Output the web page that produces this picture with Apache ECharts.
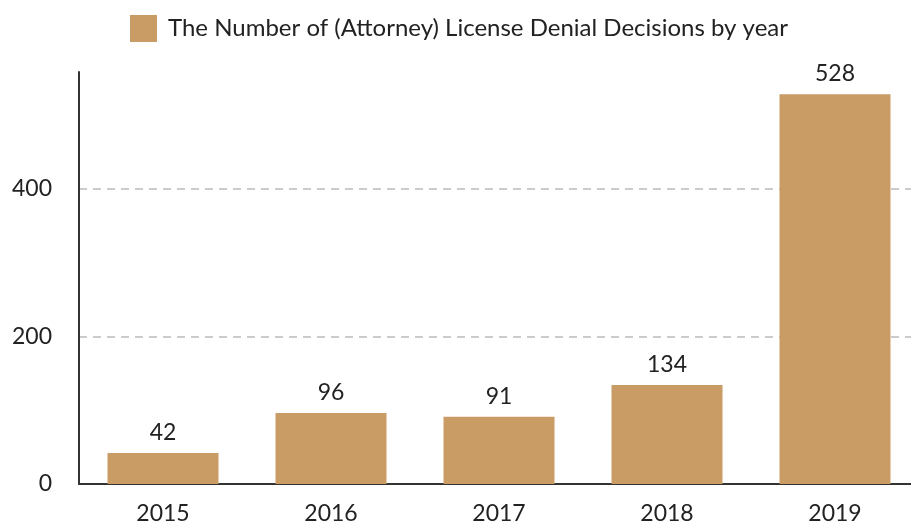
<!DOCTYPE html>
<html>
<head>
<meta charset="utf-8">
<script src="https://cdn.jsdelivr.net/npm/echarts@6/dist/echarts.min.js"></script>
<style>
  html, body { margin: 0; padding: 0; background: #fff; overflow: hidden; }
  #chart { width: 930px; height: 527px; }
</style>
</head>
<body>
<div id="chart"></div>
<script>
// data
const years = ['2015', '2016', '2017', '2018', '2019'];
const denials = [42, 96, 91, 134, 528];
const seriesName = 'The Number of (Attorney) License Denial Decisions by year';

const barColor = '#C99B65';
const fontFamily = 'Lato, "Open Sans", sans-serif';

// the original plot runs a little past the right edge, so the canvas is wider than the window
const myChart = echarts.init(document.getElementById('chart'));
const option = {
  animation: false,
  textStyle: { fontFamily },
  legend: {
    top: 10,
    left: 125,
    itemWidth: 27,
    itemHeight: 27,
    icon: 'rect',
    selectedMode: false,
    textStyle: { fontSize: 24, color: '#222', fontFamily, padding: [0, 0, 0, 6] },
    data: [seriesName]
  },
  grid: {
    left: 79,
    top: 72,
    right: 11,
    bottom: 43
  },
  xAxis: {
    type: 'category',
    data: years,
    axisLine: { lineStyle: { color: '#333', width: 2 } },
    axisTick: { show: false },
    axisLabel: { fontSize: 23, color: '#222', margin: 18, fontFamily }
  },
  yAxis: {
    type: 'value',
    min: 0,
    max: 558,
    interval: 200,
    axisLine: { show: true, lineStyle: { color: '#333', width: 2 } },
    axisTick: { show: false },
    axisLabel: {
      fontSize: 23,
      color: '#222',
      margin: 27,
      fontFamily,
      formatter: (v) => (v % 200 === 0 ? String(v) : '')
    },
    splitLine: {
      show: true,
      lineStyle: {
        type: [8, 6],
        width: 2,
        color: ['#ccc', '#ccc', '#ccc', 'rgba(0,0,0,0)']
      }
    }
  },
  series: [
    {
      name: seriesName,
      type: 'bar',
      barWidth: 111,
      data: denials,
      itemStyle: { color: barColor },
      label: {
        show: true,
        position: 'top',
        distance: 9,
        fontSize: 23,
        color: '#222',
        fontFamily
      }
    }
  ]
};
myChart.setOption(option);
</script>
</body>
</html>
